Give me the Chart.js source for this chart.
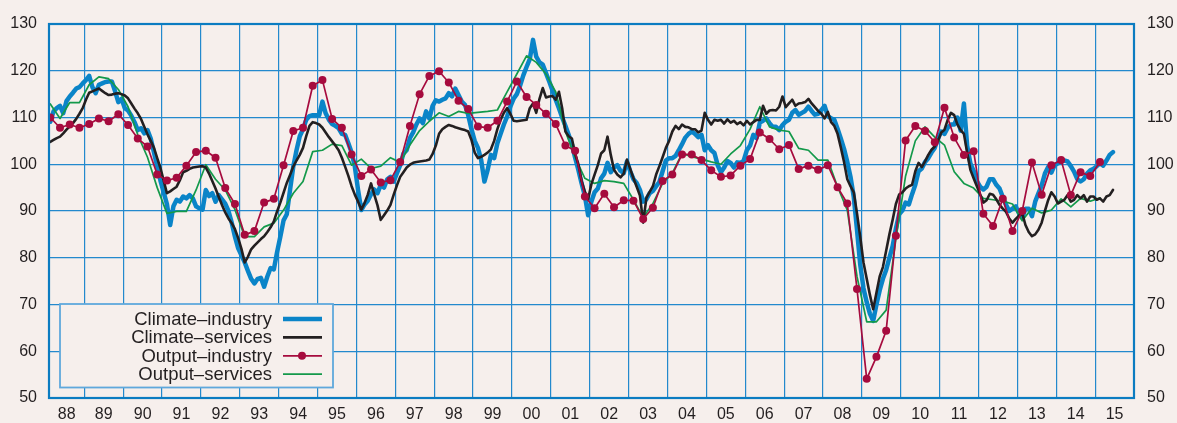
<!DOCTYPE html>
<html><head><meta charset="utf-8">
<script src="https://cdn.jsdelivr.net/npm/chart.js@4.4.1/dist/chart.umd.min.js"></script>
<style>html,body{margin:0;padding:0;background:#f6efec;}canvas{display:block;}</style>
</head><body>
<canvas id="c" width="1177" height="423"></canvas>
<script>
// ---- categories / tick labels ----
const firstYear = 1988;
const yearLabels = ['88','89','90','91','92','93','94','95','96','97','98','99','00','01','02','03','04','05','06','07','08','09','10','11','12','13','14','15'];
const yTicks = [50,60,70,80,90,100,110,120,130];
const seriesNames = ['Climate\u2013industry','Climate\u2013services','Output\u2013industry','Output\u2013services'];

// ---- monthly series, starting Feb 1988 ----
const climateIndustry = [
109.1,111.3,112.0,112.5,110.9,113.5,114.5,115.3,116.2,116.5,117.3,118.0,
118.9,116.5,115.2,117.0,117.3,117.6,117.7,117.7,115.6,113.3,114.0,112.0,
111.5,110.4,109.0,107.3,107.7,106.6,107.3,105.5,102.5,99.5,96.5,94.0,
91.5,87.0,91.0,92.4,92.0,93.1,92.7,93.4,92.7,91.0,90.6,90.3,
94.5,93.2,93.8,92.0,93.4,92.5,91.6,90.0,87.5,84.5,82.0,80.5,
79.0,77.2,75.5,74.5,75.5,75.7,73.8,76.0,77.8,77.5,81.2,84.5,
88.0,89.3,94.5,99.5,103.0,106.0,107.5,109.5,110.3,110.5,110.5,110.5,
113.4,110.9,109.5,108.6,108.2,107.7,106.5,106.3,104.5,102.5,99.5,94.5,
90.2,91.4,92.2,93.6,94.6,93.8,95.6,95.0,96.8,97.3,96.3,98.1,
99.8,102.3,103.0,105.6,106.8,108.5,109.8,108.8,111.3,109.8,112.5,113.7,
113.4,113.8,114.1,115.2,114.5,116.2,114.8,113.4,112.7,110.5,107.5,105.0,
103.5,100.9,96.3,98.8,102.0,101.3,104.5,106.5,108.5,110.2,112.3,114.0,
115.0,116.8,119.0,120.8,122.5,126.6,123.0,121.8,121.3,119.5,117.7,115.8,
113.8,112.0,110.0,108.2,106.3,104.2,101.4,98.8,95.9,93.3,89.1,92.0,
94.0,94.8,97.0,98.0,100.3,98.3,99.3,99.8,98.6,98.1,100.6,98.5,
96.8,96.0,94.5,92.0,92.5,93.8,94.3,95.3,96.2,98.5,100.8,101.3,
101.3,101.8,103.0,104.3,105.7,106.5,107.0,106.5,105.8,106.3,103.0,104.1,
103.0,102.4,99.8,98.3,99.3,100.7,100.3,99.3,100.4,100.3,100.7,103.0,
104.0,106.3,105.6,108.9,109.3,109.8,108.8,108.0,108.0,107.3,108.4,109.1,
109.5,111.0,111.6,110.6,111.0,111.4,112.3,111.4,110.6,110.8,111.6,112.5,
110.3,109.8,109.5,107.6,105.5,103.3,100.5,97.3,93.0,86.0,78.5,73.5,
70.5,68.0,66.5,70.0,73.0,75.5,77.4,80.0,82.5,86.2,89.3,90.1,
91.8,91.4,93.6,95.6,98.5,99.1,100.5,101.3,102.5,103.5,105.5,107.0,
106.5,107.8,108.5,108.5,110.0,107.2,113.0,104.0,100.2,98.6,96.4,95.2,
94.6,95.2,96.8,96.8,95.6,94.8,93.0,91.3,90.0,90.5,91.0,89.5,
88.5,90.5,90.5,88.9,92.0,93.8,95.5,98.0,99.4,98.2,99.8,100.2,
100.5,100.8,100.6,99.6,98.4,96.8,96.3,96.8,98.0,98.7,99.0,99.6,
100.2,99.7,100.8,102.0,102.6
];
const climateServices = [
104.8,105.2,105.6,105.9,106.6,107.4,108.1,108.8,109.7,110.8,112.0,113.8,
115.3,115.6,115.9,116.2,115.7,115.2,114.8,114.9,115.1,115.2,115.0,114.7,
114.1,113.0,111.9,110.9,109.7,108.0,106.4,105.0,103.5,101.3,99.2,96.5,
93.8,94.2,94.7,95.2,96.6,98.3,98.6,99.0,99.3,99.4,99.5,99.6,
99.3,98.0,96.4,94.8,93.0,91.3,89.7,88.4,87.4,86.1,84.2,81.9,
79.0,80.2,81.8,82.6,83.3,84.0,84.6,85.5,86.5,87.8,89.9,91.8,
93.9,96.0,97.7,99.5,100.8,102.0,103.5,106.0,108.2,109.0,108.8,108.5,
107.8,106.8,105.8,104.9,104.0,103.0,101.4,99.5,97.5,95.3,93.5,92.0,
90.3,91.7,93.5,95.9,93.5,91.2,88.1,89.1,90.1,91.3,93.5,95.5,
97.3,98.3,99.3,99.9,100.3,100.5,100.6,100.7,100.8,101.0,102.2,104.0,
106.5,107.5,108.0,108.4,108.2,107.9,107.7,107.5,107.3,107.0,105.2,102.5,
101.3,101.6,102.0,102.5,103.2,105.0,107.5,109.5,111.0,112.0,110.8,109.3,
109.2,109.3,109.4,109.5,112.0,113.0,111.0,114.0,116.3,114.3,114.5,114.6,
113.8,115.5,112.0,107.0,106.0,105.5,102.2,100.0,96.4,94.1,92.5,95.7,
97.8,99.8,102.3,103.0,105.9,102.0,98.8,97.8,97.2,98.0,101.0,99.0,
97.0,95.2,93.3,87.5,92.8,94.1,95.3,97.8,99.6,101.5,103.5,105.0,
107.0,108.2,107.5,108.5,108.0,107.9,107.5,107.5,106.8,107.2,111.0,109.5,
108.5,109.5,109.3,109.5,108.7,109.6,108.9,109.3,108.6,109.0,108.3,109.3,
108.5,109.0,109.5,109.5,112.5,110.8,111.5,111.6,111.5,112.3,114.5,112.2,
113.0,113.8,112.5,113.0,113.1,113.3,114.0,113.0,112.2,111.4,110.8,109.8,
111.2,109.0,108.2,106.5,103.6,100.5,96.8,95.3,94.0,89.5,84.5,79.0,
75.5,72.0,69.0,72.5,76.0,78.0,81.5,85.0,88.1,91.5,93.5,94.0,
94.8,95.3,95.6,98.5,100.3,99.4,100.6,102.0,103.1,103.8,105.0,106.8,
107.4,109.5,111.0,110.5,108.5,107.3,106.5,102.5,98.8,97.0,95.3,93.6,
91.8,92.3,93.7,93.5,92.5,91.3,90.5,89.8,88.4,87.5,88.3,89.0,
89.5,87.0,85.5,84.6,85.0,86.0,87.5,90.0,92.3,94.0,93.1,91.6,
92.0,92.4,93.4,92.0,92.4,93.4,92.7,93.4,92.0,93.1,93.1,92.4,
92.7,92.0,93.1,93.4,94.5
];

// ---- quarterly series, starting Q1 1988 ----
const outputIndustry = [
110.0,107.8,108.5,107.8, 108.6,109.8,109.2,110.7, 108.4,105.5,103.8,97.8,
96.5,97.1,99.7,102.6, 102.9,101.4,94.9,91.5, 84.9,85.7,91.8,92.6,
99.8,107.1,107.8,116.8, 118.0,109.7,107.8,102.1, 97.5,98.9,96.1,96.6,
100.5,108.2,115.0,118.9, 119.9,117.5,113.6,111.8, 108.1,107.8,109.3,113.4,
117.7,114.4,112.7,110.8, 108.6,104.0,102.9,93.1, 90.6,93.7,90.8,92.3,
92.2,88.3,90.7,96.4, 97.8,102.1,102.1,100.9, 98.7,97.3,97.6,99.7,
101.1,106.8,105.4,103.2, 104.1,99.0,99.7,98.8, 99.8,95.1,91.6,73.3,
54.1,58.8,64.4,84.7, 105.1,108.2,107.1,104.7, 112.1,105.7,102.0,102.8,
89.4,86.8,92.6,85.7, 90.0,100.4,93.5,99.8, 100.9,93.4,98.3,97.5,
100.5
];
const outputServices = [
112.9,109.8,113.2,113.2, 117.0,118.7,118.3,116.0, 112.3,106.3,101.5,95.0,
89.5,89.9,89.9,94.5, 99.9,96.8,94.5,90.3, 84.5,84.5,86.6,87.4,
90.2,93.8,96.3,102.7, 103.0,104.3,104.0,99.8, 101.1,99.1,99.6,101.4,
100.4,104.1,107.2,109.2, 111.0,110.2,111.3,110.9, 111.1,111.3,111.6,115.5,
119.3,123.2,121.8,119.3, 115.5,107.0,101.5,97.0, 95.9,96.5,96.3,95.9,
92.4,88.6,91.6,95.9, 98.1,102.3,101.6,101.1, 100.5,100.0,102.2,104.0,
107.5,112.3,108.0,107.3, 107.0,103.4,103.0,100.9, 100.9,95.2,90.2,76.0,
66.3,66.3,68.8,84.0, 97.5,105.0,108.0,105.8, 104.1,98.4,95.9,94.9,
92.7,92.4,92.1,91.5, 87.9,90.6,89.6,90.2, 92.6,90.9,92.7,92.1,
92.8
];

// ---- styling ----
const BG = '#f6efec';
const GRID = '#2389cd';
const FRAME = '#0b7cc1';
const C_BLUE = '#0a84c8', C_BLACK = '#231f20', C_RED = '#a60b3e', C_GREEN = '#13994a';
const TXT = '#231f20';
const FONT = '"Liberation Sans", Arial, Helvetica, sans-serif';
Chart.defaults.font.family = FONT;

const X_MIN = firstYear + 1.1 / 12;
const X_MAX = firstYear + yearLabels.length;
const monthly = arr => arr.map((v, i) => ({ x: firstYear + (i + 1.5) / 12, y: v }));
const quarterly = arr => arr.map((v, i) => ({ x: firstYear + (i + 0.5) / 4, y: v }));

const bgPlugin = {
  id: 'bg',
  beforeDraw(chart) {
    const c = chart.ctx; c.save(); c.fillStyle = BG; c.fillRect(0, 0, chart.width, chart.height); c.restore();
  }
};
const framePlugin = {
  id: 'frame',
  afterDatasetsDraw(chart) {
    const a = chart.chartArea, c = chart.ctx;
    c.save(); c.strokeStyle = FRAME; c.lineWidth = 2.2;
    c.strokeRect(a.left, a.top, a.right - a.left, a.bottom - a.top);
    c.restore();
  }
};
const legendPlugin = {
  id: 'customLegend',
  afterDatasetsDraw(chart) {
    const a = chart.chartArea, c = chart.ctx;
    const bx = a.left + 11, by = a.bottom - 94, bw = 273, bh = 83.5;
    c.save();
    c.fillStyle = BG; c.fillRect(bx, by, bw, bh);
    c.strokeStyle = '#5fa8dc'; c.lineWidth = 1.8; c.strokeRect(bx, by, bw, bh);
    const styles = [
      { color: C_BLUE, w: 4.5, dot: false },
      { color: C_BLACK, w: 2.6, dot: false },
      { color: C_RED, w: 1.7, dot: true },
      { color: C_GREEN, w: 1.7, dot: false }
    ];
    c.font = '18.5px ' + FONT; c.textAlign = 'right'; c.textBaseline = 'middle'; c.fillStyle = TXT;
    seriesNames.forEach((name, i) => {
      const yy = by + 15 + i * 18.4;
      c.fillStyle = TXT;
      c.fillText(name, bx + 212, yy + 1);
      const s = styles[i];
      c.strokeStyle = s.color; c.lineWidth = s.w; c.beginPath();
      c.moveTo(bx + 223, yy); c.lineTo(bx + 262, yy); c.stroke();
      if (s.dot) { c.fillStyle = s.color; c.beginPath(); c.arc(bx + 242, yy, 4, 0, Math.PI * 2); c.fill(); }
    });
    c.restore();
  }
};

const tickFont = { size: 16, family: FONT };
new Chart(document.getElementById('c').getContext('2d'), {
  type: 'line',
  data: {
    datasets: [
      { label: seriesNames[2], data: quarterly(outputIndustry), borderColor: C_RED, backgroundColor: C_RED,
        borderWidth: 1.7, pointRadius: 4, pointBorderWidth: 0, pointBackgroundColor: C_RED, order: 0 },
      { label: seriesNames[1], data: monthly(climateServices), borderColor: C_BLACK, borderWidth: 2.6, pointRadius: 0, order: 1 },
      { label: seriesNames[3], data: quarterly(outputServices), borderColor: C_GREEN, borderWidth: 1.7, pointRadius: 0, order: 2 },
      { label: seriesNames[0], data: monthly(climateIndustry), borderColor: C_BLUE, borderWidth: 4.5, pointRadius: 0, order: 3 }
    ]
  },
  options: {
    responsive: false, animation: false, devicePixelRatio: 1,
    layout: { padding: { top: 24, left: 0, right: 0, bottom: 0 } },
    plugins: { legend: { display: false }, tooltip: { enabled: false }, title: { display: false } },
    elements: { line: { tension: 0, borderJoinStyle: 'round', borderCapStyle: 'round' } },
    scales: {
      x: {
        type: 'linear', position: 'bottom', min: X_MIN, max: X_MAX,
        afterBuildTicks: s => { s.ticks = yearLabels.slice(1).map((_, i) => ({ value: firstYear + 1 + i })); },
        ticks: { display: false },
        grid: { color: GRID, lineWidth: 1.2, drawTicks: false },
        border: { display: false },
        afterFit: s => { s.height = 0; }
      },
      xl: {
        type: 'linear', position: 'bottom', min: X_MIN, max: X_MAX,
        afterBuildTicks: s => {
          s.ticks = yearLabels.map((_, i) => ({ value: i === 0 ? (X_MIN + firstYear + 1) / 2 : firstYear + i + 0.5 }));
        },
        ticks: { autoSkip: false, maxRotation: 0, padding: 7, font: tickFont, color: TXT,
          callback: v => yearLabels[Math.floor(v) - firstYear] },
        grid: { display: false, drawTicks: false },
        border: { display: false },
        afterFit: s => { s.height = 25; }
      },
      y: {
        position: 'left', min: 50, max: 130,
        afterBuildTicks: s => { s.ticks = yTicks.map(v => ({ value: v })); },
        ticks: { padding: 12, font: tickFont, color: TXT },
        grid: { color: GRID, lineWidth: 1.2, drawTicks: false },
        border: { display: false },
        afterFit: s => { s.width = 49; }
      },
      y2: {
        position: 'right', min: 50, max: 130,
        afterBuildTicks: s => { s.ticks = yTicks.map(v => ({ value: v })); },
        ticks: { padding: 13, font: tickFont, color: TXT },
        grid: { display: false, drawTicks: false },
        border: { display: false },
        afterFit: s => { s.width = 43; }
      }
    }
  },
  plugins: [bgPlugin, framePlugin, legendPlugin]
});
</script>
</body></html>
